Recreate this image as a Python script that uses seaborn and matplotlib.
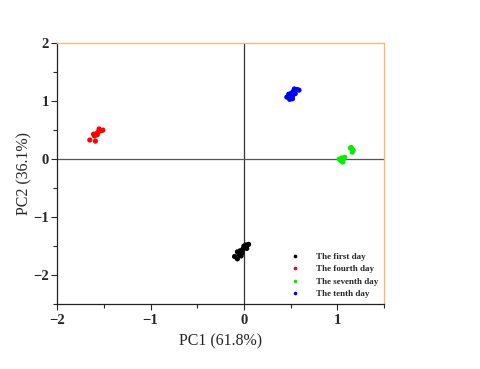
import matplotlib.pyplot as plt
import seaborn as sns
import pandas as pd
from matplotlib.ticker import MultipleLocator

# data
first_x = [-0.10, -0.07, -0.05, -0.07, -0.04, -0.02, -0.01, 0.00, 0.02, 0.03, 0.05, -0.03]
first_y = [-1.68, -1.72, -1.65, -1.60, -1.58, -1.62, -1.55, -1.50, -1.48, -1.54, -1.47, -1.67]
fourth_x = [-1.65, -1.60, -1.59, -1.58, -1.56, -1.55, -1.53, -1.51, -1.57, -1.61]
fourth_y = [0.33, 0.40, 0.31, 0.44, 0.47, 0.52, 0.49, 0.50, 0.42, 0.43]
seventh_x = [1.02, 1.04, 1.05, 1.06, 1.07, 1.08, 1.05, 1.14, 1.16, 1.16, 1.17, 1.15]
seventh_y = [0.00, -0.03, 0.02, -0.05, 0.01, 0.03, -0.02, 0.19, 0.17, 0.12, 0.15, 0.20]
tenth_x = [0.46, 0.49, 0.50, 0.51, 0.52, 0.53, 0.54, 0.55, 0.57, 0.59, 0.48, 0.52]
tenth_y = [1.07, 1.03, 1.10, 1.14, 1.08, 1.17, 1.21, 1.13, 1.20, 1.19, 1.12, 1.04]

groups = ['The first day', 'The fourth day', 'The seventh day', 'The tenth day']
colors = ['black', 'red', '#00ee00', 'blue']

df = pd.concat([
    pd.DataFrame({'PC1': first_x, 'PC2': first_y, 'Day': groups[0]}),
    pd.DataFrame({'PC1': fourth_x, 'PC2': fourth_y, 'Day': groups[1]}),
    pd.DataFrame({'PC1': seventh_x, 'PC2': seventh_y, 'Day': groups[2]}),
    pd.DataFrame({'PC1': tenth_x, 'PC2': tenth_y, 'Day': groups[3]}),
])

sns.set_style("ticks")
plt.rcParams['font.family'] = ['Liberation Serif', 'DejaVu Serif']

fig = plt.figure(figsize=(4.8, 3.69), dpi=100)
ax = fig.add_axes([0.119, 0.176, 0.681, 0.707])

ax.axvline(0, color='#333333', lw=0.9, zorder=1)
ax.axhline(0, color='#555555', lw=0.9, zorder=1)

sns.scatterplot(data=df, x='PC1', y='PC2', hue='Day', hue_order=groups,
                palette=colors, s=14, edgecolor='none', ax=ax, zorder=3)

ax.set_xlim(-2, 1.5)
ax.set_ylim(-2.5, 2)
ax.xaxis.set_major_locator(MultipleLocator(1))
ax.yaxis.set_major_locator(MultipleLocator(1))
ax.xaxis.set_minor_locator(MultipleLocator(0.5))
ax.yaxis.set_minor_locator(MultipleLocator(0.5))
ax.tick_params(which='major', length=4, width=0.8, labelsize=10.5)
ax.tick_params(axis='y', which='major', pad=2)
ax.tick_params(which='minor', length=3, width=0.8)
for lab in ax.get_xticklabels() + ax.get_yticklabels():
    lab.set_fontweight('bold')

for s in ['top', 'right']:
    ax.spines[s].set_color('#ffb56b')
for s in ['left', 'bottom']:
    ax.spines[s].set_color('#222222')
for s in ax.spines.values():
    s.set_linewidth(0.9)

ax.set_xlabel('PC1 (61.8%)', fontsize=11.5, labelpad=4)
ax.set_ylabel('PC2 (36.1%)', fontsize=11.5)
ax.yaxis.set_label_coords(-0.075, 0.5)

leg = ax.legend(loc='lower right', frameon=False, fontsize=6.5, markerscale=0.7,
                handletextpad=1.3, labelspacing=0.45, borderaxespad=0.25)
for t in leg.get_texts():
    t.set_fontweight('bold')

fig.savefig('out.png', dpi=100)
